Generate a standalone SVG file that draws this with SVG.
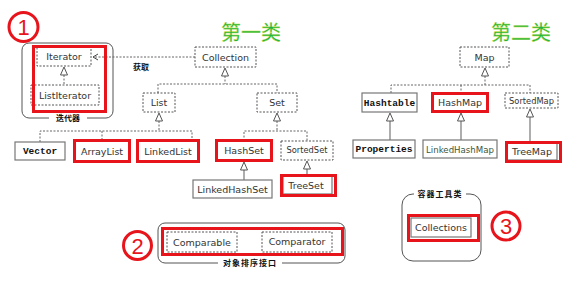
<svg xmlns="http://www.w3.org/2000/svg" width="580" height="285" viewBox="0 0 580 285">
<defs>
<style>
.dbox{fill:#fff;stroke:#555;stroke-width:1;stroke-dasharray:2,1.5}
.sbox{fill:#fff;stroke:#777;stroke-width:1.2}
.red{fill:none;stroke:#e8141c;stroke-width:3}
.t{font-family:"DejaVu Sans",sans-serif;font-size:9.5px;fill:#333;text-anchor:middle}
.ts{font-family:"DejaVu Sans",sans-serif;font-size:8.3px;fill:#333;text-anchor:middle}
.tb{font-family:"Liberation Mono",monospace;font-weight:bold;font-size:9.5px;fill:#111;text-anchor:middle}
.cn{font-family:"Noto Sans CJK SC",sans-serif;font-weight:bold;font-size:8px;fill:#111;text-anchor:middle}
.green{font-family:"Noto Sans CJK SC",sans-serif;font-size:20px;fill:#1db34a;stroke:#c8e020;stroke-width:0.3;text-anchor:middle}
.dl{fill:none;stroke:#666;stroke-width:1;stroke-dasharray:2,1.5}
.sl{fill:none;stroke:#777;stroke-width:1.2}
.tri{fill:#fff;stroke:#555;stroke-width:1}
.grp{fill:none;stroke:#555;stroke-width:1}
.circ{fill:none;stroke:#e8141c;stroke-width:3}
.num{font-family:"Liberation Sans",sans-serif;font-size:22px;fill:#e8141c;text-anchor:middle}
</style>
</defs>
<rect width="580" height="285" fill="#fff"/>

<g id="titles">
<text class="green" x="251" y="40">第一类</text>
<text class="green" x="521" y="40">第二类</text>
</g>

<g id="badges">
<circle class="circ" cx="23.5" cy="27" r="14.5"/>
<text class="num" x="23.5" y="35">1</text>
<circle class="circ" cx="137.5" cy="245.5" r="14"/>
<text class="num" x="137.5" y="253.5">2</text>
<circle class="circ" cx="506" cy="226" r="14"/>
<text class="num" x="506" y="234">3</text>
</g>

<g id="groups">
<rect class="grp" x="22" y="43" width="91" height="75" rx="7"/>
<rect x="49" y="113" width="38" height="9" fill="#fff"/>
<text class="cn" x="68" y="121">迭代器</text>
<rect class="grp" x="158" y="223" width="187" height="40" rx="7"/>
<rect x="218" y="258" width="64" height="10" fill="#fff"/>
<text class="cn" x="250" y="266" letter-spacing="1">对象排序接口</text>
<rect class="grp" x="402" y="194" width="79" height="67" rx="11"/>
<rect x="414" y="189" width="52" height="10" fill="#fff"/>
<text class="cn" x="440" y="197" letter-spacing="1">容器工具类</text>
</g>

<g id="connectors">
<path class="dl" d="M195 57 H93"/>
<path d="M98 54 L93 57 L98 60" fill="none" stroke="#444" stroke-width="1"/>
<text class="cn" x="141" y="70">获取</text>
<path class="dl" d="M64 75 V85"/>
<path class="tri" d="M64 67 L60.5 75 H67.5 Z"/>
<path class="dl" d="M225 76 V84 M158 93 V84 H277 V93"/>
<path class="tri" d="M225 68 L221.5 76 H228.5 Z"/>
<path class="dl" d="M159 121 V131 M40 142 V131 H192 V140 M102 131 V140"/>
<path class="tri" d="M159 113 L155.5 121 H162.5 Z"/>
<path class="dl" d="M277 121 V131 M244 141 V131 H307 V141"/>
<path class="tri" d="M277 113 L273.5 121 H280.5 Z"/>
<path class="sl" d="M244 170 V180"/>
<path class="tri" d="M244 162 L240.5 170 H247.5 Z"/>
<path class="sl" d="M307 169 V176"/>
<path class="tri" d="M307 161 L303.5 169 H310.5 Z"/>
<path class="dl" d="M485 76 V85 M391 93 V85 H530 V93 M461 85 V93"/>
<path class="tri" d="M485 68 L481.5 76 H488.5 Z"/>
<path class="sl" d="M390 121 V140"/>
<path class="tri" d="M390 113 L386.5 121 H393.5 Z"/>
<path class="sl" d="M461 121 V140"/>
<path class="tri" d="M461 113 L457.5 121 H464.5 Z"/>
<path class="sl" d="M530 117 V143"/>
<path class="tri" d="M530 109 L526.5 117 H533.5 Z"/>
</g>

<g id="n-iterator"><rect class="dbox" x="37" y="47" width="54" height="19"/><text class="t" x="64" y="60">Iterator</text></g>
<g id="n-listiterator"><rect class="dbox" x="31" y="85" width="68" height="20"/><text class="t" x="65" y="99">ListIterator</text></g>
<rect id="hl-iter" class="red" x="33.5" y="46.5" width="72" height="65"/>

<g id="n-collection"><rect class="dbox" x="195" y="47" width="61" height="20"/><text class="t" x="225.5" y="61">Collection</text></g>
<g id="n-list"><rect class="dbox" x="143" y="93" width="32" height="19"/><text class="t" x="159" y="106">List</text></g>
<g id="n-set"><rect class="dbox" x="257" y="93" width="40" height="19"/><text class="t" x="277" y="106">Set</text></g>

<g id="n-vector"><rect class="sbox" x="15" y="142" width="50" height="18"/><text class="tb" x="40" y="154">Vector</text></g>
<g id="n-arraylist"><rect class="sbox" x="75" y="141" width="54" height="20"/><rect class="red" x="74.5" y="140.5" width="55" height="21"/><text class="t" x="102" y="155">ArrayList</text></g>
<g id="n-linkedlist"><rect class="sbox" x="138" y="141" width="60" height="20"/><rect class="red" x="137.5" y="140.5" width="61" height="21"/><text class="t" x="168" y="155">LinkedList</text></g>

<g id="n-hashset"><rect class="sbox" x="217" y="141" width="54" height="19"/><rect class="red" x="216.5" y="140.5" width="55" height="20"/><text class="t" x="244" y="154">HashSet</text></g>
<g id="n-sortedset"><rect class="dbox" x="281" y="141" width="52" height="19"/><text class="ts" x="307" y="153">SortedSet</text></g>
<g id="n-linkedhashset"><rect class="sbox" x="193" y="180" width="79" height="18"/><text class="t" x="232.5" y="193">LinkedHashSet</text></g>
<g id="n-treeset"><rect class="sbox" x="283" y="176" width="49" height="18"/><rect class="red" x="281.5" y="175.5" width="54" height="20"/><text class="t" x="306" y="189">TreeSet</text></g>

<g id="n-map"><rect class="dbox" x="460" y="47" width="49" height="20"/><text class="t" x="484.5" y="61">Map</text></g>
<g id="n-hashtable"><rect class="sbox" x="362" y="93" width="55" height="19"/><text class="tb" x="389.5" y="106">Hashtable</text></g>
<g id="n-hashmap"><rect class="sbox" x="433" y="94" width="54" height="17"/><rect class="red" x="432.5" y="93.5" width="55" height="18"/><text class="t" x="460" y="106">HashMap</text></g>
<g id="n-sortedmap"><rect class="dbox" x="505" y="93" width="53" height="15"/><text class="ts" x="531.5" y="104">SortedMap</text></g>
<g id="n-properties"><rect class="sbox" x="353" y="140" width="62" height="18"/><text class="tb" x="384" y="152">Properties</text></g>
<g id="n-linkedhashmap"><rect class="sbox" x="423" y="140" width="74" height="18"/><text class="t" x="460" y="153" style="fill:#3c553c;font-size:8.6px">LinkedHashMap</text></g>
<g id="n-treemap"><rect class="sbox" x="507" y="143" width="50" height="17"/><rect class="red" x="506.5" y="142.5" width="54" height="19"/><text class="t" x="532" y="155">TreeMap</text></g>

<g id="n-comparable"><rect class="dbox" x="167" y="232" width="70" height="20"/><text class="t" x="202" y="246">Comparable</text></g>
<g id="n-comparator"><rect class="dbox" x="262" y="232" width="70" height="20"/><text class="t" x="297" y="245">Comparator</text></g>
<rect id="hl-sort" class="red" x="162.5" y="228.5" width="180" height="26"/>

<g id="n-collections"><rect class="sbox" x="411" y="218" width="60" height="19"/><rect class="red" x="408.5" y="215.5" width="70" height="25"/><text class="t" x="441" y="231">Collections</text></g>
</svg>
